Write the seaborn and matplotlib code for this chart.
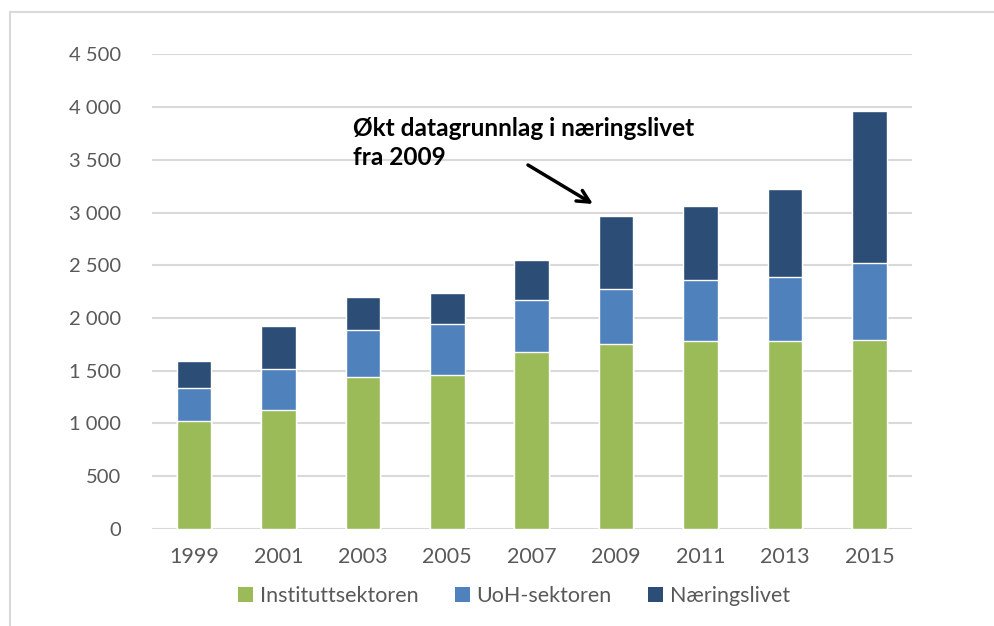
import matplotlib
matplotlib.use("Agg")
import matplotlib.pyplot as plt
from matplotlib.patches import Patch, Rectangle
from matplotlib.ticker import FuncFormatter, MultipleLocator
import pandas as pd
import seaborn as sns

years = ["1999", "2001", "2003", "2005", "2007", "2009", "2011", "2013", "2015"]
institutt = [1024, 1131, 1441, 1460, 1681, 1751, 1782, 1782, 1792]
uoh = [313, 389, 442, 480, 490, 527, 575, 604, 727]
naering = [258, 401, 313, 294, 379, 692, 708, 837, 1441]

labels = ["Instituttsektoren", "UoH-sektoren", "Næringslivet"]
colors = ["#9BBB59", "#4F81BD", "#2C4D75"]

df = pd.DataFrame({"year": years, "institutt": institutt, "uoh": uoh, "naering": naering})
df["lvl1"] = df["institutt"]
df["lvl2"] = df["institutt"] + df["uoh"]
df["lvl3"] = df["lvl2"] + df["naering"]

sns.set_style("white")
plt.rcParams["font.family"] = ["Lato", "DejaVu Sans"]

fig = plt.figure(figsize=(9.95, 6.26), dpi=100)
ax = fig.add_axes([0.1525, 0.155, 0.7638, 0.7583])

# stacked look: draw cumulative totals from the top down
for col, color in zip(["lvl3", "lvl2", "lvl1"], colors[::-1]):
    sns.barplot(data=df, x="year", y=col, color=color, width=0.41,
                saturation=1, ax=ax, zorder=3)

ax.set_ylim(0, 4500)
ax.yaxis.set_major_locator(MultipleLocator(500))
ax.yaxis.set_major_formatter(FuncFormatter(lambda v, _: f"{v:,.0f}".replace(",", " ")))
ax.grid(axis="y", color="#D9D9D9", linewidth=1.5, zorder=0)
ax.set_axisbelow(True)
sns.despine(ax=ax, left=True, top=True, right=True, bottom=True)
ax.set_xlabel("")
ax.set_ylabel("")
ax.tick_params(axis="both", length=0, labelcolor="#595959")
ax.tick_params(axis="y", pad=22, labelsize=14.5)
ax.tick_params(axis="x", pad=13, labelsize=15.5)

# baseline of the last line of the note
fig.text(353 / 995, 1 - 165 / 626, "Økt datagrunnlag i næringslivet\nfra 2009",
         fontsize=17.6, fontweight="bold", color="black", ha="left", va="baseline",
         linespacing=1.32)
ax.annotate("", xy=(593 / 995, 1 - 204 / 626), xytext=(528 / 995, 1 - 165 / 626),
            xycoords="figure fraction", textcoords="figure fraction",
            arrowprops=dict(arrowstyle="->", color="black", lw=2.5,
                            mutation_scale=22, shrinkA=0, shrinkB=0))

handles = [Patch(facecolor=c, edgecolor="none", label=l) for c, l in zip(colors, labels)]
fig.legend(handles=handles, loc="center", bbox_to_anchor=(514 / 995, 1 - 596 / 626),
           ncol=3, frameon=False, fontsize=15.5, labelcolor="#595959",
           handlelength=0.7, handleheight=0.7, handletextpad=0.3, columnspacing=1.7)

fig.patches.append(Rectangle((10 / 995, -0.1), 1.2, 1.1 - 12 / 626,
                             transform=fig.transFigure, fill=False,
                             edgecolor="#D9D9D9", linewidth=1.5))

fig.savefig("out.png", dpi=100)
